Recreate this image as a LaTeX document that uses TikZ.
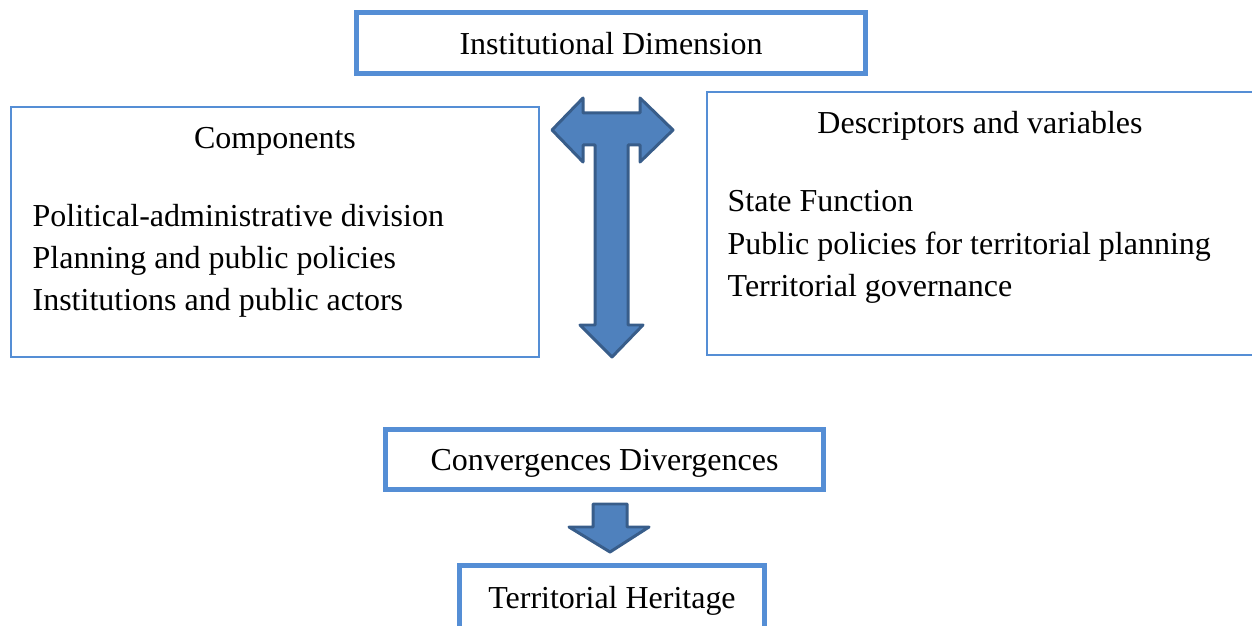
\documentclass[tikz,border=0pt]{standalone}
\usepackage{fontspec}
\setmainfont{Liberation Serif}
\usetikzlibrary{positioning,shapes}
\definecolor{boxblue}{RGB}{85,142,213}
\definecolor{arrowfill}{RGB}{79,129,189}
\definecolor{arrowline}{RGB}{56,93,138}
\begin{document}
\begin{tikzpicture}
[font=\fontsize{18.2}{24}\selectfont, line width=0.75pt,
dimbox/.style={rectangle, draw=boxblue, line width=2.8pt, inner sep=0pt, text height=14pt, text depth=1pt},
listbox/.style={rectangle, draw=boxblue, line width=1.1pt, inner sep=0pt},
items/.style={align=left, inner sep=0pt, anchor=west},
blockarrow/.style={draw=arrowline, fill=arrowfill, line width=1.7pt, line join=round}]

\useasboundingbox (0,0) rectangle (25.04,12.5);

\node[dimbox, minimum width=10.18cm, minimum height=1.22cm] (dimension) at (12.22,11.64) {Institutional Dimension};

% left and right boxes
\node[listbox, minimum width=10.56cm, minimum height=5.00cm] (compbox) at (5.50,7.86) {};
\node (comptitle) at (5.50,9.68) {Components};
\node[items] (complist) at (0.64,7.28) {Political-administrative division\\Planning and public policies\\Institutions and public actors};

\node[listbox, minimum width=11.10cm, minimum height=5.26cm] (descbox) at (19.69,8.03) {};
\node (desctitle) at (19.60,9.98) {Descriptors and variables};
\node[items] (desclist) at (14.54,7.56) {State Function\\Public policies for territorial planning\\Territorial governance};

\draw[blockarrow] (11.04,9.90) -- (11.66,10.54) -- (11.66,10.24) -- (12.80,10.24) -- (12.80,10.54) -- (13.46,9.90)
  -- (12.80,9.26) -- (12.80,9.60) -- (12.56,9.60) -- (12.56,6.00) -- (12.86,6.00) -- (12.24,5.36)
  -- (11.60,6.00) -- (11.90,6.00) -- (11.90,9.60) -- (11.66,9.60) -- (11.66,9.26) -- cycle;

% bottom
\node[dimbox, minimum width=8.76cm, minimum height=1.20cm] (converge) at (12.09,3.31) {Convergences Divergences};
\node[dimbox, minimum width=6.10cm, minimum height=1.26cm] (heritage) at (12.24,0.56) {Territorial Heritage};

\draw[blockarrow] (11.86,2.42) -- (12.54,2.42) -- (12.54,1.96) -- (12.98,1.96) -- (12.20,1.46) -- (11.38,1.96) -- (11.86,1.96) -- cycle;

\end{tikzpicture}
\end{document}
